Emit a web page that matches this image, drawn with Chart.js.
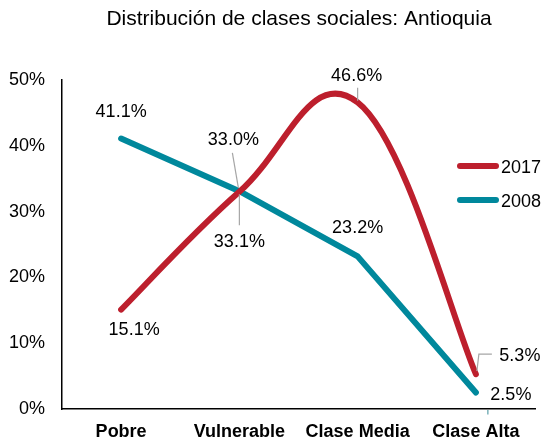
<!DOCTYPE html>
<html>
<head>
<meta charset="utf-8">
<script src="https://cdn.jsdelivr.net/npm/chart.js@4.4.1/dist/chart.umd.min.js"></script>
<style>
  html, body { margin: 0; padding: 0; background: #ffffff; }
  #wrap { width: 542px; height: 442px; position: relative; }
</style>
</head>
<body>
<div id="wrap"><canvas id="c" width="542" height="442"></canvas></div>
<script>
// ---- data ----
const titleText = 'Distribución de clases sociales: Antioquia';
const categories = ['Pobre', 'Vulnerable', 'Clase Media', 'Clase Alta'];
const seriesNames = ['2017', '2008'];
const values2017 = [15.1, 33.0, 46.6, 5.3];
const values2008 = [41.1, 33.1, 23.2, 2.5];
const yTicks = [0, 10, 20, 30, 40, 50];

// ---- style ----
const RED = '#BD1F2D';
const TEAL = '#00889C';
const FONT = '"Liberation Sans", Arial, Helvetica, sans-serif';
const SMOOTH_K = 0.2; // Catmull-Rom-like smoothing factor (Excel style smoothed line)

// label placement (offsets from point, text baseline) and leader lines (relative to point)
const labelStyle = {
  0: [ // 2017
    { dx: 13, dy: 25 },
    { dx: -6, dy: -47, leader: [[-7, -39], [-1, -4]] },
    { dx: -1, dy: -21.7, leader: [[0, -14.5], [0, -1.5]] },
    { dx: 44, dy: -13.4, leader: [[1, -3], [3, -20], [16, -20]] }
  ],
  1: [ // 2008
    { dx: 0, dy: -22 },
    { dx: 0, dy: 56, leader: [[0, 3], [0, 34]] },
    { dx: 0, dy: -23.6 },
    { dx: 35, dy: 7.4, leader: [[12, 17.5], [12, 22]], leaderColor: '#5A9FA8' }
  ]
};

// uniform-tangent smoothing of the line's bezier control points
const smoothPlugin = {
  id: 'uniformSmooth',
  beforeDatasetDraw(chart, args) {
    const ds = chart.data.datasets[args.index];
    if (!ds.uniformSmooth) return;
    const meta = args.meta;
    const line = meta.dataset;
    if (line && line.updateControlPoints) line.updateControlPoints(chart.chartArea, 'x');
    const pts = meta.data;
    const n = pts.length;
    for (let i = 0; i < n; i++) {
      const p = pts[i];
      const prev = pts[Math.max(0, i - 1)];
      const next = pts[Math.min(n - 1, i + 1)];
      const tx = (next.x - prev.x) * SMOOTH_K;
      const ty = (next.y - prev.y) * SMOOTH_K;
      p.cp1x = p.x - tx; p.cp1y = p.y - ty;
      p.cp2x = p.x + tx; p.cp2y = p.y + ty;
    }
  }
};

const decorPlugin = {
  id: 'decor',
  afterDraw(chart) {
    const ctx = chart.ctx;
    ctx.save();
    // title
    ctx.fillStyle = '#000';
    ctx.font = '21px ' + FONT;
    ctx.textAlign = 'center';
    ctx.textBaseline = 'alphabetic';
    ctx.fillText(titleText, 299, 25);

    // data labels
    ctx.font = '18px ' + FONT;
    chart.data.datasets.forEach((ds, di) => {
      const meta = chart.getDatasetMeta(di);
      meta.data.forEach((pt, i) => {
        const st = labelStyle[di][i];
        if (st.leader) {
          ctx.strokeStyle = st.leaderColor || '#A6A6A6';
          ctx.lineWidth = 1.2;
          ctx.beginPath();
          st.leader.forEach((p, k) => {
            if (k === 0) ctx.moveTo(pt.x + p[0], pt.y + p[1]);
            else ctx.lineTo(pt.x + p[0], pt.y + p[1]);
          });
          ctx.stroke();
        }
        ctx.fillStyle = '#000';
        ctx.textAlign = 'center';
        ctx.fillText(ds.data[i].toFixed(1) + '%', pt.x + st.dx, pt.y + st.dy);
      });
    });

    // legend
    const legendY = [166, 200];
    chart.data.datasets.forEach((ds, di) => {
      const y = legendY[di];
      ctx.strokeStyle = ds.borderColor;
      ctx.lineWidth = 6;
      ctx.lineCap = 'round';
      ctx.beginPath();
      ctx.moveTo(460, y);
      ctx.lineTo(496, y);
      ctx.stroke();
      ctx.fillStyle = '#000';
      ctx.textAlign = 'left';
      ctx.font = '18px ' + FONT;
      ctx.fillText(ds.label, 501, y + 6.5);
    });
    ctx.restore();
  }
};

new Chart(document.getElementById('c'), {
  type: 'line',
  data: {
    labels: categories,
    datasets: [
      {
        label: seriesNames[0],
        data: values2017,
        borderColor: RED,
        backgroundColor: RED,
        borderWidth: 6,
        tension: 0.4,
        uniformSmooth: true,
        borderCapStyle: 'round',
        borderJoinStyle: 'round',
        pointRadius: 0,
        fill: false,
        order: 1
      },
      {
        label: seriesNames[1],
        data: values2008,
        borderColor: TEAL,
        backgroundColor: TEAL,
        borderWidth: 6,
        tension: 0,
        borderCapStyle: 'round',
        borderJoinStyle: 'round',
        pointRadius: 0,
        fill: false,
        order: 2
      }
    ]
  },
  options: {
    responsive: false,
    animation: false,
    devicePixelRatio: 1,
    layout: { padding: { top: 80, right: 7, left: 0, bottom: 0 } },
    elements: { line: { capBezierPoints: false } },
    plugins: {
      legend: { display: false },
      title: { display: false },
      tooltip: { enabled: false }
    },
    scales: {
      x: {
        offset: true,
        grid: { display: false, drawTicks: false },
        border: { display: true, color: '#000', width: 1.5 },
        ticks: {
          color: '#000',
          font: { family: FONT, size: 18, weight: 'bold' },
          padding: 12,
          maxRotation: 0,
          autoSkip: false
        },
        afterFit(scale) { scale.height = 33; }
      },
      y: {
        min: 0,
        max: 50,
        afterBuildTicks(scale) { scale.ticks = yTicks.map(v => ({ value: v })); },
        grid: { display: false, drawTicks: false },
        border: { display: true, color: '#000', width: 1.5 },
        ticks: {
          color: '#000',
          font: { family: FONT, size: 18 },
          padding: 17,
          callback: v => v + '%'
        },
        afterFit(scale) { scale.width = 62; }
      }
    }
  },
  plugins: [smoothPlugin, decorPlugin]
});
</script>
</body>
</html>
